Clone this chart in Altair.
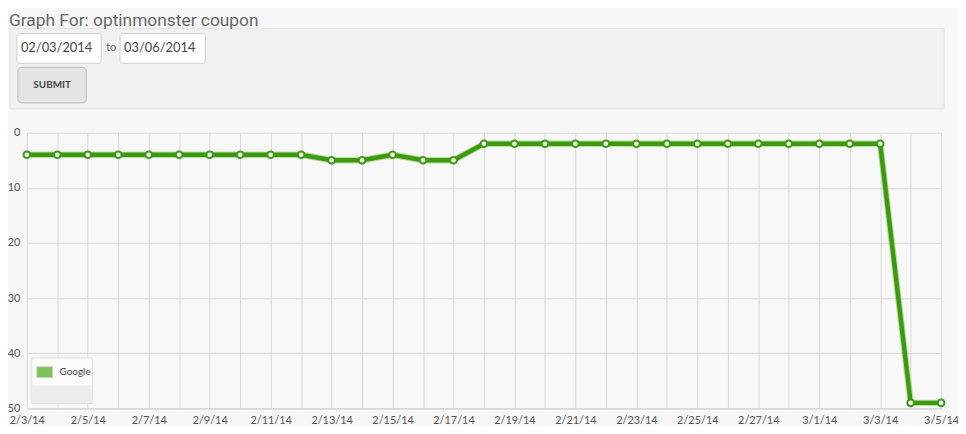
import json
import altair as alt
import pandas as pd

# ---- data ----
dates = ["2/3/14", "2/4/14", "2/5/14", "2/6/14", "2/7/14", "2/8/14", "2/9/14", "2/10/14",
         "2/11/14", "2/12/14", "2/13/14", "2/14/14", "2/15/14", "2/16/14", "2/17/14",
         "2/18/14", "2/19/14", "2/20/14", "2/21/14", "2/22/14", "2/23/14", "2/24/14",
         "2/25/14", "2/26/14", "2/27/14", "2/28/14", "3/1/14", "3/2/14", "3/3/14",
         "3/4/14", "3/5/14"]
google_rank = [4, 4, 4, 4, 4, 4, 4, 4, 4, 4, 5, 5, 4, 5, 5,
               2, 2, 2, 2, 2, 2, 2, 2, 2, 2, 2, 2, 2, 2, 49, 49]
y_ticks = [0, 10, 20, 30, 40, 50]
series_name = "Google"
title_text = "Graph For: optinmonster coupon"
date_from = "02/03/2014"
date_to = "03/06/2014"
button_text = "SUBMIT"

df = pd.DataFrame({"idx": list(range(len(dates))), "date": dates, "rank": google_rank})

FONT = "Lato"
GREEN = "#3b9a0d"
label_expr = "datum.value % 2 == 0 ? " + json.dumps(dates) + "[datum.value] : ''"

x_enc = alt.X("idx:Q", scale=alt.Scale(domain=[0, len(dates) - 1], nice=False, zero=False),
              axis=alt.Axis(values=list(range(len(dates))), labelExpr=label_expr, title=None,
                            ticks=False, domain=True, domainColor="#cfcfcf",
                            gridColor="#d9d9d9", labelFont=FONT, labelFontSize=11,
                            labelColor="#555555", labelPadding=6, labelFlush=False))
y_enc = alt.Y("rank:Q", scale=alt.Scale(domain=[0, 50], reverse=True, nice=False),
              axis=alt.Axis(values=y_ticks, title=None, ticks=False, domain=False,
                            gridColor="#d9d9d9", labelFont=FONT, labelFontSize=11,
                            labelColor="#555555", labelPadding=7))

base = alt.Chart(df)
halo = base.mark_line(color="#86c462", strokeWidth=6.5, opacity=0.55).encode(x=x_enc, y=y_enc)
line = base.mark_line(color=GREEN, strokeWidth=4.5).encode(x=x_enc, y=y_enc)
pts = base.mark_point(filled=True, fill="white", stroke=GREEN, strokeWidth=2, size=45,
                      opacity=1).encode(x=x_enc, y=y_enc)

one = pd.DataFrame({"a": [0]})


def box(x1, x2, y1, y2, fill, stroke, radius=0, sw=1):
    return alt.Chart(one).mark_rect(fill=fill, stroke=stroke, strokeWidth=sw,
                                    cornerRadius=radius).encode(
        x=alt.value(x1), x2=alt.value(x2), y=alt.value(y1), y2=alt.value(y2))


def txt(s, x, y, size, color, weight="normal", align="left", font=FONT, baseline="middle"):
    return alt.Chart(one).mark_text(text=s, fontSize=size, color=color, fontWeight=weight,
                                    align=align, baseline=baseline, font=font).encode(
        x=alt.value(x), y=alt.value(y))


# header (positions relative to plot origin)
header = [
    box(-17, 925, -105, -24, "#f1f1f1", "#e2e2e2"),
    txt(title_text, -18, -108, 17.5, "#666666", font="Roboto", baseline="alphabetic"),
    box(-10, 75, -100, -70, "#ffffff", "#cccccc", radius=3),
    txt(date_from, -6, -85, 13, "#444444"),
    txt("to", 80, -85, 11, "#666666"),
    box(94, 180, -100, -70, "#ffffff", "#cccccc", radius=3),
    txt(date_to, 98, -85, 13, "#444444"),
    box(-9, 60, -66, -30, "#e4e4e4", "#bbbbbb", radius=4),
    txt(button_text, 25.5, -48, 10, "#444444", weight="bold", align="center"),
]

legend = [
    box(5, 66, 227, 273, "#fbfbfb", "#dddddd"),
    box(5.5, 65.5, 255, 272.5, "#ececec", "#ececec", sw=0),
    box(10, 26, 236, 247, "#7cc35a", "#cfcfcf"),
    txt(series_name, 33, 241.5, 10, "#444444"),
]

chart = alt.layer(halo, line, pts, *header, *legend).properties(
    width=922, height=278,
    autosize=alt.AutoSizeParams(type="none"),
    padding={"left": 19, "top": 124, "right": 17, "bottom": 16},
    background="#f7f7f7",
).configure_view(fill="#f8f8f8", stroke=None).configure_axis(gridWidth=1)

chart.save("out.html", embed_options={"renderer": "svg", "actions": False})
